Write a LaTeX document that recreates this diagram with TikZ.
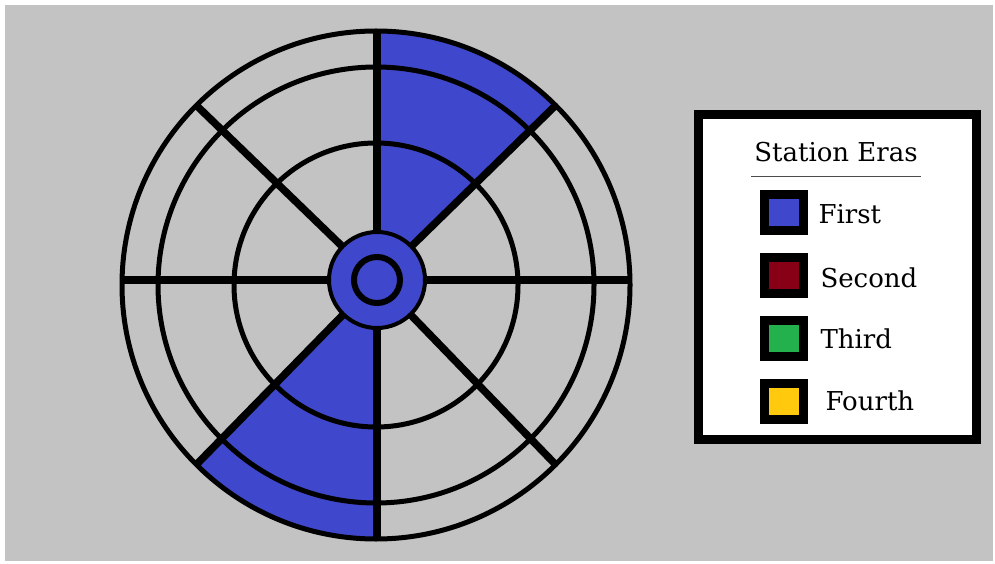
\documentclass[tikz,border=0pt]{standalone}
\usepackage{fontspec}
\setmainfont{DejaVu Serif}
\usetikzlibrary{positioning,calc}
\definecolor{panelgray}{HTML}{C3C3C3}
\definecolor{erablue}{HTML}{3F48CC}
\definecolor{erared}{HTML}{880015}
\definecolor{eragreen}{HTML}{22B14C}
\definecolor{erayellow}{HTML}{FFC90E}
\newcommand{\erafont}{\fontsize{26}{30}\selectfont}

\begin{document}
\begin{tikzpicture}[x=1pt,y=1pt,
  spoke/.style={line width=7.5pt},
  swatch/.style={draw=black, line width=9pt, minimum width=39pt, minimum height=36pt, inner sep=0pt}]
\useasboundingbox (0,0) rectangle (995,563);
\fill[white] (0,0) rectangle (995,563);
\fill[panelgray] (5,2) rectangle (993,558);
\coordinate (wheel) at (376,278);
\coordinate (hub) at (377,283);
\foreach \a in {45,225}
  \fill[erablue] (hub) -- ($(wheel)+(\a:254)$) arc[start angle=\a, end angle=\a+45, radius=254] -- cycle;
\foreach \r in {254,218,142}
  \draw[line width=5pt] (wheel) circle[radius=\r];
\foreach \a/\len in {0/253,90/249,180/255,270/259}
  \draw[spoke] (hub) -- ++(\a:\len);
\foreach \a in {45,135,225,315}
  \draw[spoke] (hub) -- ($(wheel)+(\a:254)$);
\draw[line width=4pt, fill=erablue] (hub) circle[radius=48];
\draw[line width=6pt] (hub) circle[radius=23];
\draw[line width=9pt, fill=white] (698.5,124) rectangle (976,448.5);
\node[anchor=base, font=\erafont] (title) at (836,401) {Station Eras};
\draw[line width=1pt, black!70] (751,386) -- (921,386);
\foreach \y/\base/\lx/\txt/\col in {350.5/339/815/First/erablue,287.5/276/817/Second/erared,225/215/817/Third/eragreen,162/153/822/Fourth/erayellow} {
  \node[swatch, fill=\col] (sw-\txt) at (783.5,\y) {};
  \node[anchor=base west, font=\erafont] (lab-\txt) at (\lx,\base) {\txt};
}
\end{tikzpicture}
\end{document}
